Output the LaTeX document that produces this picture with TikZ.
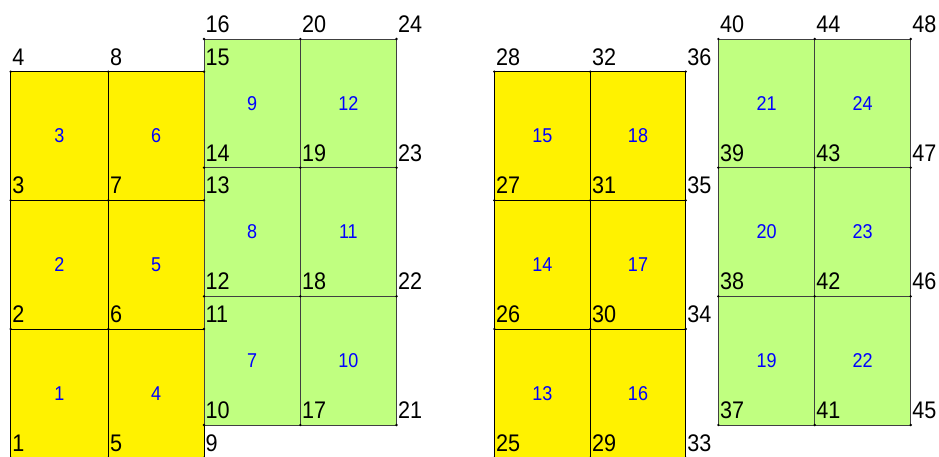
\documentclass[tikz,border=0pt]{standalone}
\usepackage{fontspec}
\newfontfamily\labfont[FakeStretch=0.9]{Liberation Sans}
\usetikzlibrary{calc}
\definecolor{lgreen}{RGB}{192,255,128}
\tikzset{
  yel/.style={fill=yellow, draw=black, line width=0.8pt},
  grn/.style={fill=lgreen, draw=black!75, line width=0.8pt},
  lab/.style={anchor=base west, inner sep=0pt, font=\labfont\fontsize{24}{24}\selectfont},
  elab/.style={inner sep=0pt, text=blue, font=\labfont\fontsize{20}{20}\selectfont},
  dot/.style={fill=black}
}
\begin{document}
\begin{tikzpicture}[x=1pt,y=-1pt]
\useasboundingbox (0,0) rectangle (939,457);
\clip (0,0) rectangle (939,457);
% nodes
\foreach \n/\x/\y in {
  1/10.7/457.7, 2/10.7/329, 3/10.7/200.3, 4/10.7/71.7,
  5/108.3/457.7, 6/108.3/329, 7/108.3/200.3, 8/108.3/71.7,
  9/204/457.7, 10/204/425, 11/204/329, 12/204/296.3,
  13/204/200.3, 14/204/167.7, 15/204/71.7, 16/204/39,
  17/300.3/425, 18/300.3/296.3, 19/300.3/167.7, 20/300.3/39,
  21/396.5/425, 22/396.5/296.3, 23/396.5/167.7, 24/396.5/39,
  25/494.3/457.7, 26/494.3/329, 27/494.3/200.3, 28/494.3/71.7,
  29/590.3/457.7, 30/590.3/329, 31/590.3/200.3, 32/590.3/71.7,
  33/685.7/457.7, 34/685.7/329, 35/685.7/200.3, 36/685.7/71.7,
  37/718.3/425, 38/718.3/296.3, 39/718.3/167.7, 40/718.3/39,
  41/814.7/425, 42/814.7/296.3, 43/814.7/167.7, 44/814.7/39,
  45/910.7/425, 46/910.7/296.3, 47/910.7/167.7, 48/910.7/39}
  \coordinate (p\n) at (\x,\y);
% elements
\foreach \e/\a/\b/\c/\d/\s in {
  1/1/5/6/2/yel, 2/2/6/7/3/yel, 3/3/7/8/4/yel,
  4/5/9/11/6/yel, 5/6/11/13/7/yel, 6/7/13/15/8/yel,
  13/25/29/30/26/yel, 14/26/30/31/27/yel, 15/27/31/32/28/yel,
  16/29/33/34/30/yel, 17/30/34/35/31/yel, 18/31/35/36/32/yel,
  7/10/17/18/12/grn, 8/12/18/19/14/grn, 9/14/19/20/16/grn,
  10/17/21/22/18/grn, 11/18/22/23/19/grn, 12/19/23/24/20/grn,
  19/37/41/42/38/grn, 20/38/42/43/39/grn, 21/39/43/44/40/grn,
  22/41/45/46/42/grn, 23/42/46/47/43/grn, 24/43/47/48/44/grn}
  {
  \filldraw[\s] (p\a) -- (p\b) -- (p\c) -- (p\d) -- cycle;
  \node[elab] (e\e) at ($(p\a)!0.5!(p\c)$) {\e};
  }
% node dots and labels
\foreach \n in {1,...,48}{
  \fill[dot] (p\n) circle (1.3pt);
  \node[lab] (l\n) at ([shift={(1.5pt,6.5pt)}]p\n) {\n};
}
\end{tikzpicture}
\end{document}
